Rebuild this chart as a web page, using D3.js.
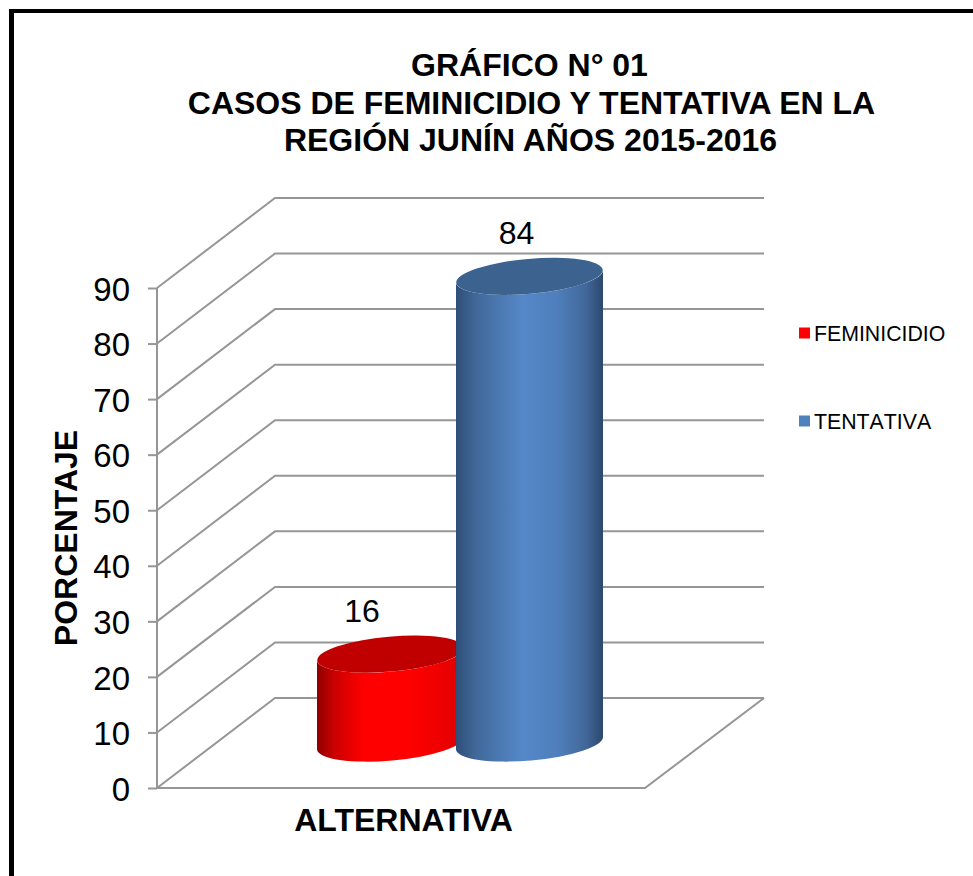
<!DOCTYPE html>
<html><head><meta charset="utf-8">
<script src="https://cdn.jsdelivr.net/npm/d3@7"></script>
<style>html,body{margin:0;padding:0;background:#fff}svg{display:block}text{font-family:"Liberation Sans",Arial,sans-serif;fill:#000}</style>
</head><body><svg id="c" width="973" height="876"></svg>
<script>
const titleLines = ["GRÁFICO N° 01","CASOS DE FEMINICIDIO Y TENTATIVA EN LA","REGIÓN JUNÍN AÑOS 2015-2016"];
const seriesNames = ["FEMINICIDIO","TENTATIVA"];
const seriesValues = [16,84];
const yTicks = [0,10,20,30,40,50,60,70,80,90];
const xTitle = "ALTERNATIVA", yTitle = "PORCENTAJE";

const svg = d3.select("#c");
const grid = "#969696";
// frame
svg.append("rect").attr("x",9).attr("y",9).attr("width",5).attr("height",867).attr("fill","#000");
svg.append("rect").attr("x",9).attr("y",9).attr("width",964).attr("height",4).attr("fill","#000");
// title
svg.append("g").selectAll("text").data(titleLines).join("text")
  .attr("x",(d,i)=>[529.5,531.5,530.5][i]).attr("y",(d,i)=>76+i*37.5).attr("text-anchor","middle")
  .attr("font-size",32).attr("font-weight","bold").text(d=>d);

const left=157, frontRight=645, dx=118, dy=-90, wallRight=764;
const y = d3.scaleLinear().domain([0,90]).range([788,288]);
// gridlines
svg.append("g").selectAll("path").data(yTicks).join("path")
  .attr("d",d=>d3.line()([[left,y(d)],[left+dx,y(d)+dy],[wallRight,y(d)+dy]]))
  .attr("fill","none").attr("stroke",grid).attr("stroke-width",2);
svg.append("path").attr("d",d3.line()([[left,788],[frontRight,788],[wallRight,788+dy]]))
  .attr("fill","none").attr("stroke",grid).attr("stroke-width",2);
// axis
const ax = svg.append("g").attr("transform",`translate(${left},0)`)
  .call(d3.axisLeft(y).tickValues(yTicks).tickSize(9).tickPadding(18).tickFormat(d3.format("d")));
ax.selectAll("path,line").attr("stroke",grid).attr("stroke-width",2);
ax.select(".domain").attr("d",`M0,${y(90)}V${y(0)}`);
ax.selectAll("text").attr("font-size",33).attr("dy","0.37em").attr("font-family",'"Liberation Sans",Arial,sans-serif').attr("fill","#000");

// cylinders
const defs = svg.append("defs");
const ramps = [
 [[0,"#8f0000"],[.12,"#cc0000"],[.32,"#ff0000"],[.62,"#ff0000"],[.85,"#ee0000"],[1,"#dc0000"]],
 [[0,"#2f4f78"],[.14,"#41699a"],[.45,"#5588c8"],[.68,"#4f80bd"],[.88,"#42689a"],[1,"#2c486c"]]
];
const topColors=["#c00000","#3c6390"];
ramps.forEach((r,i)=>{
  const g=defs.append("linearGradient").attr("id","g"+i);
  r.forEach(s=>g.append("stop").attr("offset",s[0]).attr("stop-color",s[1]));
});
const xBand = d3.scaleBand().domain(seriesNames).range([321,599]).padding(0);
const rx=73.5, ry=17.5, tilt=-5, slope=6.5, baseY=743;
const labelDx=[-28.5,-13];
seriesNames.forEach((n,i)=>{
  const v=seriesValues[i], cx=xBand(n)+xBand.bandwidth()/2, t=baseY-(y(0)-y(v));
  const lx=cx-rx, rxx=cx+rx;
  const g=svg.append("g");
  g.append("path").attr("fill",`url(#g${i})`).attr("d",
    `M${lx},${t+slope}L${lx},${baseY+slope}A${rx},${ry} ${tilt} 0 0 ${rxx},${baseY-slope}L${rxx},${t-slope}A${rx},${ry} ${tilt} 0 1 ${lx},${t+slope}Z`);
  g.append("ellipse").attr("cx",0).attr("cy",0).attr("rx",rx).attr("ry",ry)
    .attr("transform",`translate(${cx},${t}) rotate(${tilt})`).attr("fill",topColors[i]);
  svg.append("text").attr("x",cx+labelDx[i]).attr("y",t-32).attr("text-anchor","middle").attr("font-size",32).text(v);
});

// axis titles
svg.append("text").attr("x",403.5).attr("y",831).attr("text-anchor","middle").attr("font-size",32).attr("font-weight","bold").text(xTitle);
svg.append("text").attr("transform","translate(77,538) rotate(-90)").attr("text-anchor","middle").attr("font-size",32).attr("font-weight","bold").text(yTitle);

// legend
const legY=d3.scalePoint().domain(seriesNames).range([333,421]);
const legColors=["#ff0000","#4f81bd"];
seriesNames.forEach((n,i)=>{
  svg.append("rect").attr("x",799).attr("y",legY(n)-5.5).attr("width",11).attr("height",11).attr("fill",legColors[i]);
  svg.append("text").attr("x",814).attr("y",legY(n)+7.5).attr("font-size",21.3).style("font-kerning","none").text(n);
});
</script></body></html>
